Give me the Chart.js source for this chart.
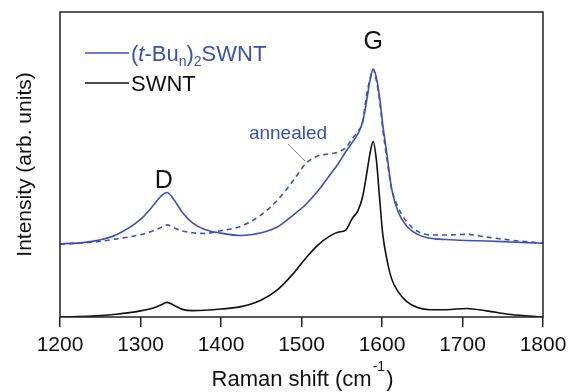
<!DOCTYPE html>
<html>
<head>
<meta charset="utf-8">
<script src="https://cdn.jsdelivr.net/npm/chart.js@4.4.0/dist/chart.umd.min.js"></script>
<style>
  html, body { margin: 0; padding: 0; background: #fff; }
  #wrap { width: 571px; height: 392px; }
</style>
</head>
<body>
<div id="wrap"><canvas id="myChart"></canvas></div>
<script>
// Raman shift (cm-1) sample points, shared by the three spectra
var ramanShift = [1200, 1240, 1270, 1300, 1315, 1325, 1333, 1342, 1352, 1365, 1380, 1400, 1425, 1450, 1470, 1490,
  1505, 1520, 1535, 1545, 1555, 1563, 1570, 1576, 1581, 1585, 1589, 1593, 1597, 1601, 1606, 1612,
  1620, 1630, 1645, 1660, 1680, 1705, 1730, 1760, 1800];

// (t-Bun)2SWNT, offset spectrum
var tBuSwnt = [23.9, 24.8, 27, 32, 36.3, 39.5, 40.8, 38.3, 34.3, 30.8, 28.7, 27.5, 26.7, 27.6, 29.5, 33.5,
  36.8, 41.2, 46.5, 50, 54.2, 57.2, 60, 64, 71, 77.5, 81.2, 78.5, 72, 63, 53.5, 42,
  34.5, 30, 27, 25.8, 25.4, 25.1, 24.9, 24.6, 24.2];

// (t-Bun)2SWNT after annealing (dashed)
var annealed = [23.9, 24.5, 25.6, 27, 28.2, 29.3, 30.2, 29.2, 28.2, 27.6, 27.4, 28.3, 29.8, 33.5, 38.3, 44.8,
  50.2, 52.8, 53.5, 54, 55.5, 58.5, 60.8, 64, 73, 78, 81.2, 77.5, 71, 61.5, 52, 42,
  36, 31.5, 28, 26.9, 26.9, 27.1, 26.2, 25.2, 24.2];

// pristine SWNT
var swnt = [0, 0.3, 0.9, 2, 2.9, 3.9, 4.8, 3.8, 2.5, 2.1, 2.2, 2.6, 3.4, 5.6, 8.9, 14.3,
  19.2, 23.5, 26.5, 27.8, 28.5, 32.3, 34.8, 39.5, 47, 53.5, 57.5, 51.5, 39, 27, 19, 12.5,
  8.3, 5.2, 3, 2.4, 2.4, 2.8, 2, 0.8, 0];

var xTicks = [1200, 1300, 1400, 1500, 1600, 1700, 1800];

var BLUE = '#3b52b4';
var FONT = '"Liberation Sans", Arial, sans-serif';

function pts(ys) {
  var out = [];
  for (var i = 0; i < ramanShift.length; i++) out.push({ x: ramanShift[i], y: ys[i] });
  return out;
}

// frame, axis titles, legend and peak labels
var decorations = {
  id: 'decorations',
  afterDraw: function(chart) {
    var c = chart.ctx;
    var a = chart.chartArea;
    var xs = chart.scales.x;
    c.save();

    c.strokeStyle = '#222';
    c.lineWidth = 1.5;
    c.strokeRect(a.left, a.top, a.right - a.left, a.bottom - a.top);

    // x title with superscript
    c.fillStyle = '#111';
    c.textBaseline = 'alphabetic';
    c.textAlign = 'left';
    var big = '22px ' + FONT, small = '14px ' + FONT;
    var p1 = 'Raman shift (cm', p3 = ')';
    c.font = small; var w2 = c.measureText('-1').width;
    c.font = big; var w1 = c.measureText(p1).width, w3 = c.measureText(p3).width;
    var x0 = (a.left + a.right) / 2 - (w1 + w2 + w3) / 2;
    c.fillText(p1, x0, 386);
    c.font = small; c.fillText('-1', x0 + w1 + 1, 371);
    c.font = big; c.fillText(p3, x0 + w1 + w2 + 2, 386);

    // y title
    c.save();
    c.translate(31, (a.top + a.bottom) / 2);
    c.rotate(-Math.PI / 2);
    c.textAlign = 'center';
    c.font = '21px ' + FONT;
    c.fillText('Intensity (arb. units)', 0, 0);
    c.restore();

    // legend
    c.lineWidth = 1.6;
    c.strokeStyle = BLUE;
    c.beginPath(); c.moveTo(85, 53); c.lineTo(129, 53); c.stroke();
    c.strokeStyle = '#111';
    c.beginPath(); c.moveTo(85, 83); c.lineTo(129, 83); c.stroke();

    var bx = 131, by = 61;
    var parts = [
      ['(', '22px ' + FONT, 0],
      ['t', 'italic 22px ' + FONT, 0],
      ['-Bu', '22px ' + FONT, 0],
      ['n', '14px ' + FONT, 5],
      [')', '22px ' + FONT, 0],
      ['2', '14px ' + FONT, 5],
      ['SWNT', '22px ' + FONT, 0]
    ];
    c.fillStyle = BLUE;
    parts.forEach(function(p) {
      c.font = p[1];
      c.fillText(p[0], bx, by + p[2]);
      bx += c.measureText(p[0]).width;
    });
    c.fillStyle = '#111';
    c.font = '22px ' + FONT;
    c.fillText('SWNT', 131, 91);

    // peak labels
    c.textAlign = 'center';
    c.font = '25px ' + FONT;
    c.fillText('D', xs.getPixelForValue(1329), 188);
    c.fillText('G', xs.getPixelForValue(1589), 49);

    c.fillStyle = BLUE;
    c.font = '19px ' + FONT;
    c.fillText('annealed', 288, 139);

    c.strokeStyle = '#777';
    c.lineWidth = 1;
    c.beginPath(); c.moveTo(288, 144); c.lineTo(305, 161); c.stroke();
    c.restore();
  }
};

var ctx = document.getElementById('myChart').getContext('2d');

var myChart = new Chart(ctx, {
  type: 'line',
  data: {
    datasets: [
      {
        label: '(t-Bun)2SWNT',
        data: pts(tBuSwnt),
        borderColor: BLUE,
        borderWidth: 1.6,
        pointRadius: 0,
        cubicInterpolationMode: 'monotone',
        fill: false
      },
      {
        label: 'annealed',
        data: pts(annealed),
        borderColor: BLUE,
        borderWidth: 1.6,
        borderDash: [5, 4],
        pointRadius: 0,
        cubicInterpolationMode: 'monotone',
        fill: false
      },
      {
        label: 'SWNT',
        data: pts(swnt),
        borderColor: '#111',
        borderWidth: 1.6,
        pointRadius: 0,
        cubicInterpolationMode: 'monotone',
        fill: false
      }
    ]
  },
  options: {
    responsive: true,
    maintainAspectRatio: false,
    animation: false,
    layout: { padding: { left: 60, right: 28, top: 12, bottom: 0 } },
    plugins: {
      legend: { display: false },
      tooltip: { enabled: false }
    },
    scales: {
      x: {
        type: 'linear',
        min: 1200,
        max: 1800,
        afterBuildTicks: function(scale) {
          scale.ticks = xTicks.map(function(v) { return { value: v }; });
        },
        afterFit: function(scale) {
          scale.height = 75;
          scale.paddingLeft = 0;
          scale.paddingRight = 0;
        },
        grid: { drawOnChartArea: false, drawTicks: true, tickLength: 10, tickColor: '#222', lineWidth: 1.5 },
        border: { display: false },
        ticks: {
          color: '#111',
          font: { family: FONT, size: 21 },
          padding: 6,
          maxRotation: 0,
          callback: function(v) { return String(v); }
        }
      },
      y: {
        display: false,
        min: 0,
        max: 100
      }
    }
  },
  plugins: [decorations]
});
</script>
</body>
</html>
